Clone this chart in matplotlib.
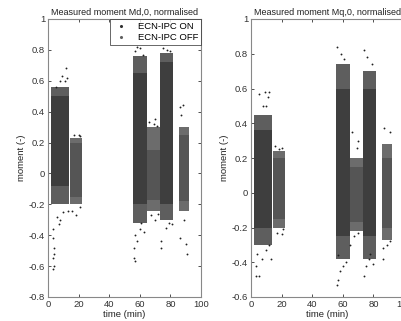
import matplotlib
matplotlib.use("Agg")
import matplotlib.pyplot as plt
from matplotlib.ticker import FuncFormatter

plt.rcParams['font.family'] = ['Liberation Sans', 'DejaVu Sans']

# ---- data ----
block_start = [2, 14.5, 55.5, 65, 73, 85.5]
block_end = [13.5, 22, 64.5, 73, 82, 92]
block_case = ["ON", "OFF", "ON", "OFF", "ON", "OFF"]

# Md,0 clouds
md_core_lo = [-0.08, -0.15, -0.2, -0.17, -0.2, -0.18]
md_core_hi = [0.5, 0.2, 0.65, 0.15, 0.72, 0.25]
md_band_lo = [-0.2, -0.2, -0.32, -0.24, -0.3, -0.24]
md_band_hi = [0.56, 0.23, 0.76, 0.3, 0.78, 0.3]
md_out_t = [12, 9, 12.5, 8, 11, 5, 3.5, 3.5, 4, 4, 3.5, 4, 3, 6, 8, 7, 10, 13,
            17, 20, 21, 16, 18, 21,
            58, 60, 57, 62, 56, 57, 56.5, 58, 57, 60, 63, 61,
            66, 70, 71, 69, 67, 70, 72,
            75, 78, 80, 74, 74, 77, 79, 81,
            86, 88, 87, 86, 90, 91, 89]
md_out_v = [0.68, 0.63, 0.62, 0.6, 0.6, 0.56, -0.36, -0.42, -0.48, -0.52, -0.55, -0.6, -0.62, -0.28, -0.3, -0.33, -0.25, -0.24,
            0.25, 0.25, 0.24, -0.24, -0.27, -0.22,
            0.82, 0.81, 0.79, 0.77, -0.55, -0.57, -0.48, -0.44, -0.4, -0.36, -0.38, -0.32,
            0.33, 0.35, 0.31, 0.32, -0.27, -0.3, -0.26,
            0.81, 0.8, 0.79, -0.48, -0.44, -0.35, -0.32, -0.33,
            0.43, 0.44, 0.38, -0.42, -0.46, -0.52, -0.3]

# Mq,0 clouds
mq_core_lo = [-0.2, -0.15, -0.25, -0.17, -0.25, -0.2]
mq_core_hi = [0.36, 0.2, 0.6, 0.15, 0.6, 0.2]
mq_band_lo = [-0.3, -0.2, -0.38, -0.22, -0.38, -0.27]
mq_band_hi = [0.45, 0.24, 0.74, 0.2, 0.7, 0.28]
mq_out_t = [9, 5, 12, 11, 10, 8, 3, 3, 5, 4, 7, 10, 13, 12,
            16, 18, 20, 17, 20, 21,
            56, 59, 61, 56, 57, 58, 60, 62, 57,
            66, 70, 69, 67, 70, 65,
            74, 76, 79, 74, 75, 77, 80, 78,
            87, 91, 86, 89, 86, 91]
mq_out_v = [0.58, 0.57, 0.58, 0.55, 0.5, 0.5, -0.42, -0.48, -0.48, -0.35, -0.38, -0.33, -0.38, -0.3,
            0.27, 0.25, 0.26, -0.23, -0.24, -0.21,
            0.84, 0.8, 0.77, -0.53, -0.5, -0.45, -0.42, -0.4, -0.36,
            0.35, 0.3, 0.26, -0.25, -0.23, -0.3,
            0.82, 0.78, 0.74, -0.48, -0.42, -0.38, -0.41, -0.35,
            0.37, 0.35, -0.32, -0.3, -0.38, -0.28]

x_ticks = [0, 20, 40, 60, 80, 100]

color_core = {"ON": "#3e3e3e", "OFF": "#555555"}
color_band = {"ON": "#5e5e5e", "OFF": "#6c6c6c"}

fig = plt.figure(figsize=(4.01, 3.21), dpi=100)
ax1 = fig.add_axes([48 / 401, 24 / 321, 153 / 401, 278 / 321])
ax2 = fig.add_axes([251 / 401, 24 / 321, 153 / 401, 278 / 321])

fmt = FuncFormatter(lambda v, p: f"{v:g}")


def draw(ax, core_lo, core_hi, band_lo, band_hi, out_t, out_v, ylim, title):
    for s, e, c, cl, ch, bl, bh in zip(block_start, block_end, block_case,
                                        core_lo, core_hi, band_lo, band_hi):
        ax.bar(s, bh - bl, width=e - s, bottom=bl, align='edge',
               color=color_band[c], linewidth=0, zorder=1)
        ax.bar(s, ch - cl, width=e - s, bottom=cl, align='edge',
               color=color_core[c], linewidth=0, zorder=2)
    ax.scatter(out_t, out_v, s=1.8, color="#202020", linewidths=0, zorder=3)
    ax.set_xlim(0, 100)
    ax.set_ylim(*ylim)
    ax.set_xticks(x_ticks)
    ax.xaxis.set_major_formatter(fmt)
    ax.yaxis.set_major_formatter(fmt)
    ax.tick_params(direction='in', length=2, width=0.6, labelsize=6.8,
                   top=True, right=True, colors='#333333', pad=2)
    for sp in ax.spines.values():
        sp.set_color('#888888')
        sp.set_linewidth(0.8)
    ax.set_xlabel("time (min)", fontsize=6.8, labelpad=1, color='#222222')
    ax.set_ylabel("moment (-)", fontsize=6.8, labelpad=2, color='#222222')
    ax.set_title(title, fontsize=6.5, pad=3, color='#222222')


draw(ax1, md_core_lo, md_core_hi, md_band_lo, md_band_hi, md_out_t, md_out_v,
     (-0.8, 1.0), "Measured moment Md,0, normalised")
ax1.set_yticks([-0.8, -0.6, -0.4, -0.2, 0, 0.2, 0.4, 0.6, 0.8, 1])
draw(ax2, mq_core_lo, mq_core_hi, mq_band_lo, mq_band_hi, mq_out_t, mq_out_v,
     (-0.6, 1.0), "Measured moment Mq,0, normalised")
ax2.set_yticks([-0.6, -0.4, -0.2, 0, 0.2, 0.4, 0.6, 0.8, 1])

h_on = ax1.scatter([], [], s=1.5, color="#303030", label="ECN-IPC ON")
h_off = ax1.scatter([], [], s=1.5, color="#606060", label="ECN-IPC OFF")
leg = ax1.legend(handles=[h_on, h_off], loc='upper right', fontsize=6.8,
                 frameon=True, fancybox=False, edgecolor='#222222',
                 borderaxespad=0, handletextpad=1.0, borderpad=0.3,
                 labelspacing=0.2, handlelength=1.6)
leg.get_frame().set_linewidth(0.6)

fig.savefig("out.png", dpi=100)
